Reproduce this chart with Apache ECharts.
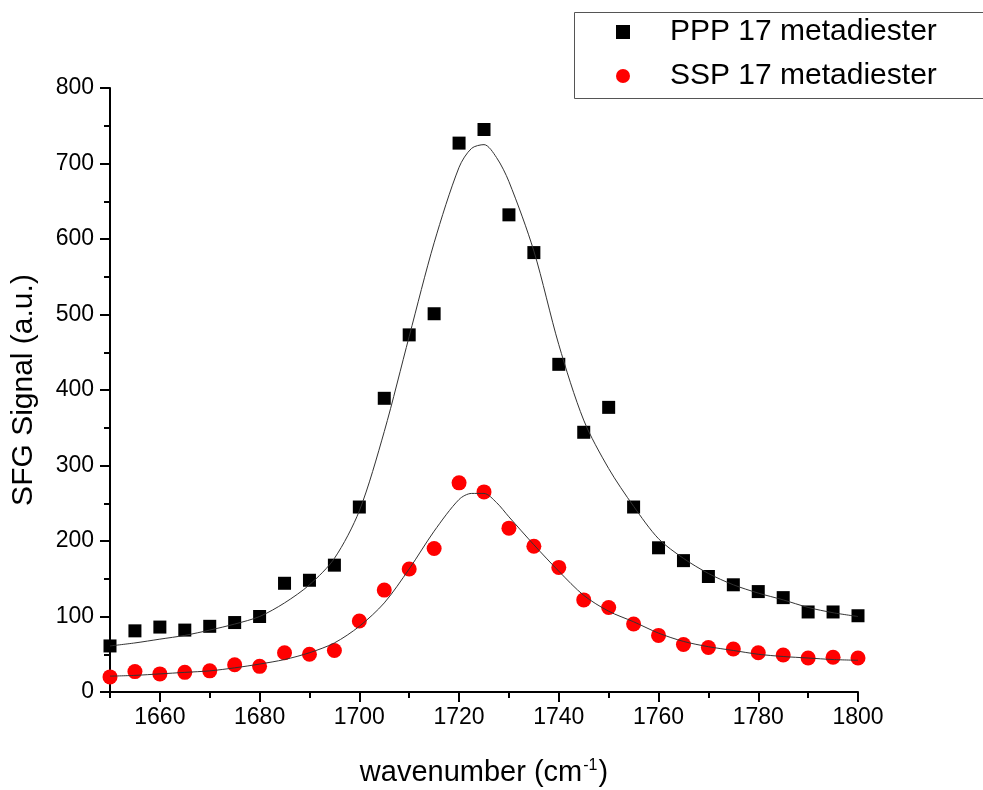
<!DOCTYPE html>
<html>
<head>
<meta charset="utf-8">
<script src="https://cdn.jsdelivr.net/npm/echarts@6/dist/echarts.min.js"></script>
<style>
  html, body { margin: 0; padding: 0; background: #fff; }
  #chart { width: 983px; height: 790px; }
</style>
</head>
<body>
<div id="chart"></div>
<script>
// measured points, every 5 cm-1
var wavenumbers = [1650, 1655, 1660, 1665, 1670, 1675, 1680, 1685, 1690, 1695, 1700, 1705, 1710, 1715, 1720, 1725,
  1730, 1735, 1740, 1745, 1750, 1755, 1760, 1765, 1770, 1775, 1780, 1785, 1790, 1795, 1800]
var pppValues = [61, 81, 86, 82, 87, 92, 100, 144, 148, 168, 245, 389, 473, 501, 727, 745,
  632, 582, 434, 344, 377, 245, 191, 174, 153, 142, 133, 125, 106, 106, 101]
var sspValues = [20, 27, 24, 26, 28, 36, 34, 52, 50, 55, 94, 135, 163, 190, 277, 265,
  217, 193, 165, 122, 112, 90, 75, 63, 59, 57, 52, 49, 45, 46, 45]

// fitted curves
var fitX = [1650, 1655, 1660, 1665, 1670, 1675, 1680, 1685, 1690, 1695, 1700, 1705, 1710, 1715, 1720, 1722.5,
  1725, 1727.5, 1730, 1735, 1740, 1745, 1750, 1755, 1760, 1765, 1770, 1775, 1780, 1785, 1790, 1795, 1800]
var pppFit = [61, 65, 70, 75, 82, 90, 100, 118, 142, 177, 240, 345, 471, 595, 695, 720,
  725, 708, 676, 584, 460, 360, 296, 246, 203, 177, 157, 142, 131, 122, 112, 105, 100]
var sspFit = [21, 22, 24, 26, 28, 32, 37, 43, 52, 65, 87, 118, 163, 213, 255, 263,
  263, 251, 232, 195, 160, 128, 107, 93, 78, 67, 60, 55, 50, 47, 45, 43, 42]

var xMajor = [1660, 1680, 1700, 1720, 1740, 1760, 1780, 1800]
var xMinor = [1650, 1670, 1690, 1710, 1730, 1750, 1770, 1790]

function pairs (xs, ys) {
  var out = []
  for (var i = 0; i < xs.length; i++) {
    out.push([xs[i], ys[i]])
  }
  return out
}

var font = '"Liberation Sans", Arial, sans-serif'
var chart = echarts.init(document.getElementById('chart'))

var options = {
  backgroundColor: '#fff',
  animation: false,
  grid: {
    left: 110,
    right: 125,
    top: 88,
    bottom: 98,
    containLabel: false,
    outerBoundsMode: 'none'
  },
  // legend frame runs off the right edge, like the original
  graphic: [{
    type: 'rect',
    left: 572,
    top: 10,
    shape: { width: 500, height: 86 },
    style: { fill: 'none', stroke: '#555', lineWidth: 1 },
    z: 0
  }],
  legend: {
    data: ['PPP 17 metadiester', 'SSP 17 metadiester'],
    orient: 'vertical',
    left: 572,
    top: 10,
    padding: [5, 10, 3, 44],
    itemGap: 10,
    itemWidth: 14,
    itemHeight: 14,
    textStyle: {
      fontFamily: font,
      fontSize: 30,
      color: '#000',
      lineHeight: 34,
      padding: [0, 0, 0, 35]
    }
  },
  xAxis: [{
    type: 'value',
    min: 1650,
    max: 1800,
    name: '{t|wavenumber (cm}{s|-1}{t|)}',
    nameLocation: 'middle',
    nameGap: 66,
    nameTextStyle: {
      rich: {
        t: { fontFamily: font, fontSize: 29, color: '#000' },
        s: { fontFamily: font, fontSize: 16, color: '#000', verticalAlign: 'top', padding: [0, 1, 14, 1] }
      }
    },
    axisLine: { lineStyle: { color: '#000', width: 2 } },
    axisTick: { show: true, length: 10, lineStyle: { color: '#000', width: 2 }, customValues: xMajor },
    axisLabel: {
      fontFamily: font,
      fontSize: 23,
      color: '#000',
      margin: 14,
      customValues: xMajor,
      formatter: function (v) { return String(v) }
    },
    splitLine: { show: false }
  }, {
    type: 'value',
    min: 1650,
    max: 1800,
    position: 'bottom',
    axisLine: { show: false },
    axisTick: { show: true, length: 6, lineStyle: { color: '#000', width: 2 }, customValues: xMinor },
    axisLabel: { show: false },
    splitLine: { show: false }
  }],
  yAxis: {
    type: 'value',
    min: 0,
    max: 800,
    interval: 100,
    name: 'SFG Signal (a.u.)',
    nameLocation: 'middle',
    nameGap: 71,
    nameTextStyle: { fontFamily: font, fontSize: 30, color: '#000' },
    axisLine: { show: true, lineStyle: { color: '#000', width: 2 } },
    axisTick: { show: true, length: 10, lineStyle: { color: '#000', width: 2 } },
    minorTick: { show: true, splitNumber: 2, length: 6, lineStyle: { color: '#000', width: 2 } },
    axisLabel: { fontFamily: font, fontSize: 23, color: '#000', margin: 16 },
    splitLine: { show: false }
  },
  series: [{
    name: 'PPP 17 metadiester',
    type: 'scatter',
    symbol: 'rect',
    symbolSize: 13,
    itemStyle: { color: '#000', opacity: 1 },
    data: pairs(wavenumbers, pppValues),
    z: 2
  }, {
    name: 'SSP 17 metadiester',
    type: 'scatter',
    symbol: 'circle',
    symbolSize: 15,
    itemStyle: { color: '#ff0000', opacity: 1 },
    data: pairs(wavenumbers, sspValues),
    z: 2
  }, {
    name: 'PPP fit',
    type: 'line',
    smooth: 0.3,
    symbol: 'none',
    lineStyle: { color: '#333', width: 1 },
    data: pairs(fitX, pppFit),
    z: 3
  }, {
    name: 'SSP fit',
    type: 'line',
    smooth: 0.3,
    symbol: 'none',
    lineStyle: { color: '#333', width: 1 },
    data: pairs(fitX, sspFit),
    z: 3
  }]
}

chart.setOption(options)
</script>
</body>
</html>
